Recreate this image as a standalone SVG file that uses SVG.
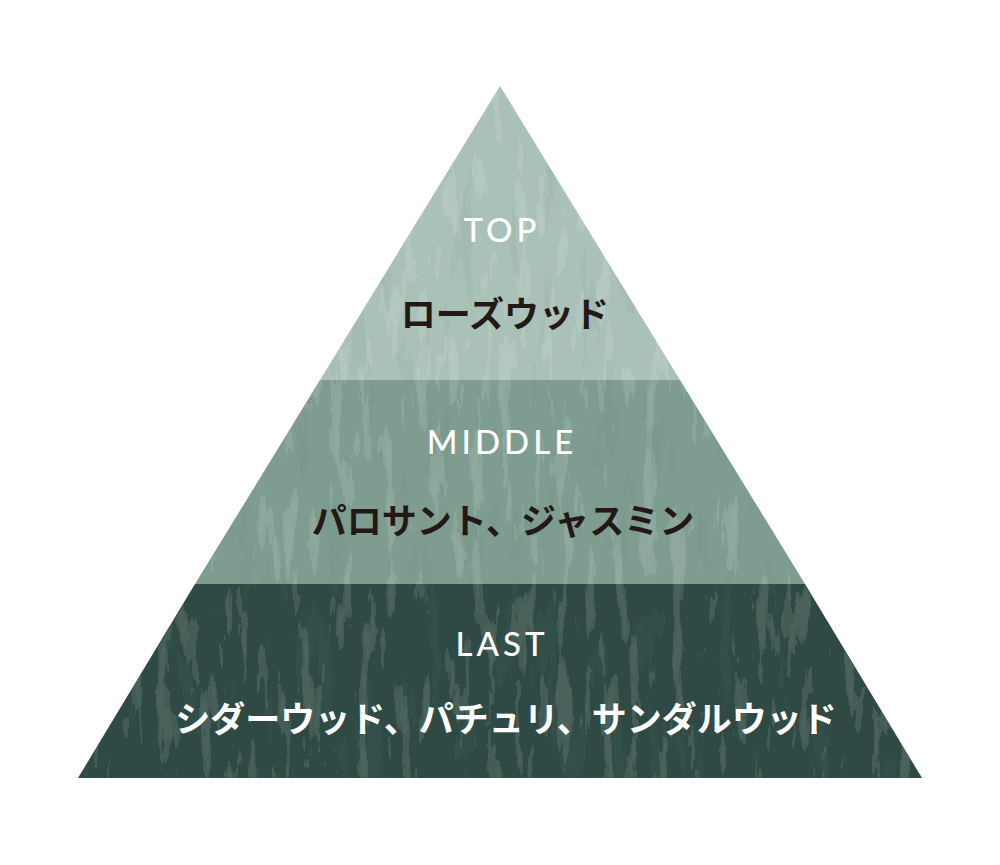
<svg xmlns="http://www.w3.org/2000/svg" width="1000" height="865" viewBox="0 0 1000 865">
  <style>
    .lbl { font-family: "Lato", "Open Sans", "Noto Sans", sans-serif; font-size: 33px; font-weight: 500; fill: #ffffff; letter-spacing: 4px; text-anchor: middle; }
    .jp { font-family: "Noto Sans CJK JP", "Noto Sans", sans-serif; font-size: 35px; font-weight: 700; text-anchor: middle; }
    .dark { fill: #231815; }
    .light { fill: #ffffff; }
  </style>
  <defs>
    <clipPath id="tri">
      <polygon points="500,86 922,778 78,778"/>
    </clipPath>
    <filter id="grain" x="0" y="0" width="100%" height="100%">
      <feTurbulence type="fractalNoise" baseFrequency="0.07 0.012" numOctaves="4" seed="7" result="n"/>
      <feColorMatrix in="n" type="matrix" values="0 0 0 0 1  0 0 0 0 1  0 0 0 0 1  4 0 0 0 -2.1" result="a"/>
      <feComponentTransfer in="a">
        <feFuncA type="discrete" tableValues="0 0.1 0.13"/>
      </feComponentTransfer>
    </filter>
    <filter id="grain2" x="0" y="0" width="100%" height="100%">
      <feTurbulence type="fractalNoise" baseFrequency="0.05 0.01" numOctaves="4" seed="3" result="n"/>
      <feColorMatrix in="n" type="matrix" values="0 0 0 0 0.1  0 0 0 0 0.2  0 0 0 0 0.18  0 4 0 0 -2.2" result="a"/>
      <feComponentTransfer in="a">
        <feFuncA type="discrete" tableValues="0 0.08 0.1"/>
      </feComponentTransfer>
    </filter>
  </defs>

  <rect width="1000" height="865" fill="#ffffff"/>

  <g id="pyramid">
    <g id="band-top">
      <polygon points="500,86 680,380 320,380" fill="#aac1b8"/>
    </g>
    <g id="band-middle">
      <polygon points="320,380 680,380 805,584 195,584" fill="#7e9c90"/>
    </g>
    <g id="band-last">
      <polygon points="195,584 805,584 922,778 78,778" fill="#2f4a44"/>
    </g>
    <g id="texture" clip-path="url(#tri)">
      <rect x="0" y="0" width="1000" height="865" filter="url(#grain)"/>
      <rect x="0" y="0" width="1000" height="865" filter="url(#grain2)"/>
    </g>
  </g>

  <g id="node-top">
    <text class="lbl" x="502" y="242">TOP</text>
    <text class="jp dark" x="505" y="327">ローズウッド</text>
  </g>
  <g id="node-middle">
    <text class="lbl" x="502" y="454">MIDDLE</text>
    <text class="jp dark" x="503" y="534">パロサント、ジャスミン</text>
  </g>
  <g id="node-last">
    <text class="lbl" x="502" y="656">LAST</text>
    <text class="jp light" x="506" y="732">シダーウッド、パチュリ、サンダルウッド</text>
  </g>
</svg>
